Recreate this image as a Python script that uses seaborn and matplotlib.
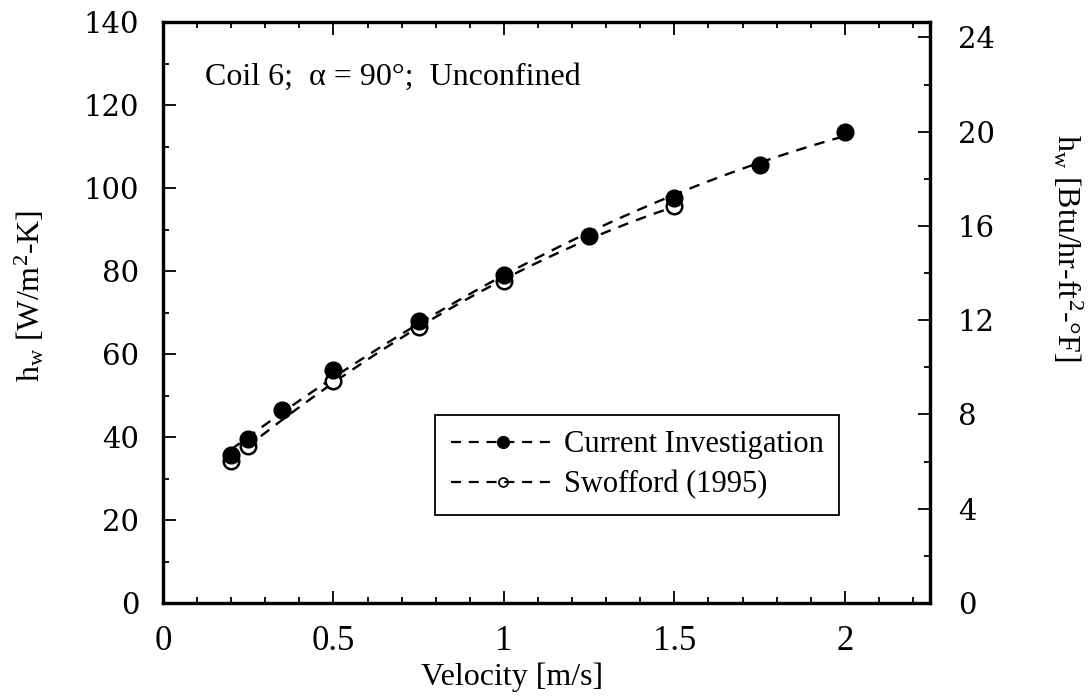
import numpy as np
import pandas as pd
import matplotlib
matplotlib.use("Agg")
import matplotlib.pyplot as plt
import seaborn as sns
from matplotlib.lines import Line2D
from matplotlib.ticker import MultipleLocator

# ---- data ----
velocity_current = [0.2, 0.25, 0.35, 0.5, 0.75, 1.0, 1.25, 1.5, 1.75, 2.0]
h_current = [35.7, 39.4, 46.5, 56.1, 68.0, 79.0, 88.4, 97.7, 105.5, 113.5]
velocity_swofford = [0.2, 0.25, 0.5, 0.75, 1.0, 1.5]
h_swofford = [34.3, 37.9, 53.4, 66.6, 77.6, 95.6]

x_ticks = [0, 0.5, 1, 1.5, 2]
x_tick_labels = ["0", "0.5", "1", "1.5", "2"]
y_ticks = [0, 20, 40, 60, 80, 100, 120, 140]
y2_ticks = [0, 4, 8, 12, 16, 20, 24]
W_PER_BTU = 5.678  # W/m2-K per Btu/hr-ft2-F

sns.set_style("ticks")
plt.rcParams["font.family"] = ["Liberation Serif", "DejaVu Serif"]
plt.rcParams["mathtext.fontset"] = "custom"
plt.rcParams["mathtext.rm"] = "Liberation Serif"
plt.rcParams["mathtext.it"] = "Liberation Serif:italic"
plt.rcParams["mathtext.bf"] = "Liberation Serif:bold"
for k in ["text.color", "axes.labelcolor", "xtick.color", "ytick.color", "axes.edgecolor"]:
    plt.rcParams[k] = "black"

W, H = 1091, 696
fig = plt.figure(figsize=(W / 100, H / 100), dpi=100)
L, R, T, B = 163, 930, 22, 603
ax = fig.add_axes([L / W, 1 - B / H, (R - L) / W, (B - T) / H])

df_cur = pd.DataFrame({"v": velocity_current, "h": h_current})
df_swo = pd.DataFrame({"v": velocity_swofford, "h": h_swofford})

dash = (0, (4.5, 3.5))
sns.regplot(data=df_cur, x="v", y="h", order=2, ci=None, scatter=False,
            truncate=True, ax=ax,
            line_kws=dict(color="black", lw=1.7, linestyle=dash, zorder=2))
sns.regplot(data=df_swo, x="v", y="h", order=2, ci=None, scatter=False,
            truncate=True, ax=ax,
            line_kws=dict(color="black", lw=1.7, linestyle=dash, zorder=2))
sns.scatterplot(data=df_swo, x="v", y="h", marker="o", s=125,
                facecolor="white", edgecolor="black", linewidth=1.8,
                ax=ax, zorder=3, legend=False)
sns.scatterplot(data=df_cur, x="v", y="h", marker="o", s=145,
                color="black", edgecolor="black", linewidth=1.0,
                ax=ax, zorder=4, legend=False)

ax.set_xlim(0, 2.25)
ax.set_ylim(0, 140)
ax.set_xticks(x_ticks)
ax.set_xticklabels(x_tick_labels, fontsize=25, fontfamily="Liberation Serif")
ax.xaxis.set_minor_locator(MultipleLocator(0.1))
ax.set_yticks(y_ticks)
ax.set_yticklabels([str(t) for t in y_ticks], fontsize=21, fontfamily="DejaVu Serif")
ax.yaxis.set_minor_locator(MultipleLocator(10))

ax.tick_params(axis="x", which="both", direction="in", top=True, bottom=True, width=1.3)
ax.tick_params(axis="x", which="major", length=9, pad=16)
ax.tick_params(axis="x", which="minor", length=4.5)
ax.tick_params(axis="y", which="both", direction="in", left=True, right=False, width=1.3)
ax.tick_params(axis="y", which="major", length=9, pad=17)
ax.tick_params(axis="y", which="minor", length=4.5)

for sp in ax.spines.values():
    sp.set_linewidth(2.3)
    sp.set_color("black")

ax2 = ax.twinx()
ax2.set_ylim(0, 140 / W_PER_BTU)
ax2.set_yticks(y2_ticks)
ax2.set_yticklabels([str(t) for t in y2_ticks], fontsize=21, fontfamily="DejaVu Serif")
ax2.yaxis.set_minor_locator(MultipleLocator(2))
ax2.tick_params(axis="y", which="both", direction="in", width=1.3)
ax2.tick_params(axis="y", which="major", length=9, pad=20)
ax2.tick_params(axis="y", which="minor", length=4.5)
for sp in ax2.spines.values():
    sp.set_linewidth(2.3)
    sp.set_color("black")

ax.set_xlabel("Velocity [m/s]", fontsize=23)
ax.xaxis.set_label_coords(0.455, -0.103)
ax.set_ylabel(r"h$_\mathregular{w}$ [W/m$^\mathregular{2}$-K]", fontsize=23)
ax.yaxis.set_label_coords(-0.152, 0.528)
ax2.set_ylabel(r"h$_\mathregular{w}$ [Btu/hr-ft$^\mathregular{2}$-°F]", fontsize=23,
               rotation=270, va="bottom")
ax2.yaxis.set_label_coords(1.157, 0.612)

ax.text(0.055, 0.904, "Coil 6;  α = 90°;  Unconfined", transform=ax.transAxes,
        fontsize=23, ha="left", va="center")

handles = [
    Line2D([], [], color="black", lw=1.6, linestyle=dash, marker="o",
           markersize=8.5, markerfacecolor="black", markeredgecolor="black"),
    Line2D([], [], color="black", lw=1.6, linestyle=dash, marker="o",
           markersize=6.5, markerfacecolor="none", markeredgecolor="black",
           markeredgewidth=1.2),
]
leg = ax.legend(handles, ["Current Investigation", "Swofford (1995)"],
                loc="upper left", bbox_to_anchor=(0.355, 0.3236),
                borderaxespad=0, fontsize=22, handlelength=3.4,
                handletextpad=0.3, labelspacing=0.35, borderpad=0.5,
                fancybox=False, framealpha=1, edgecolor="black")
leg.get_frame().set_linewidth(1.3)

fig.savefig("out.png", dpi=100)
